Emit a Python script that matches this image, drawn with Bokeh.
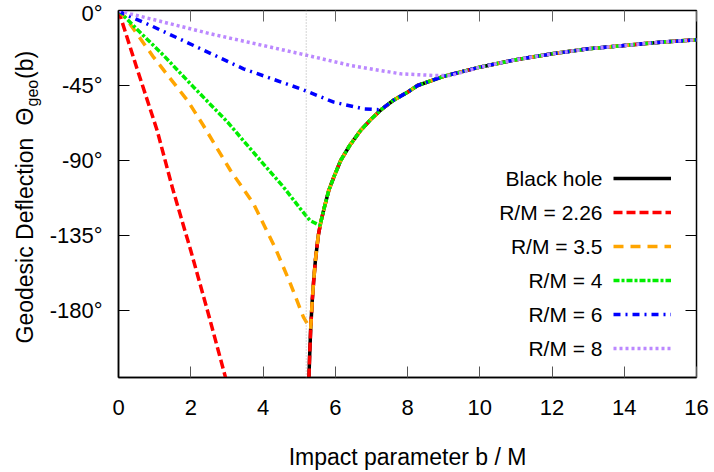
import math
from bokeh.plotting import figure
from bokeh.models import (Range1d, FixedTicker, LinearAxis, Label, Legend, LegendItem,
                          Span, CustomJSTickFormatter)
from bokeh.embed import file_html
from bokeh.resources import INLINE
from bokeh.core.properties import value

FONT = "Liberation Sans"

# ---------------- data ----------------
# Black hole (Schwarzschild) branch
bh_b = [5.26, 5.29, 5.32, 5.36, 5.40, 5.45, 5.53, 5.60, 5.70, 5.82, 5.96, 6.15, 6.40,
        6.70, 7.00, 7.30, 7.60, 8.00, 8.28, 9.00, 10.0, 11.0, 12.0, 13.0, 14.0, 15.0, 16.0]
bh_theta = [-228, -208, -191, -175, -163, -150, -135, -127, -118, -108, -100, -90, -81,
            -72, -65, -59, -54, -49, -45, -39.5, -34, -29.5, -26, -23, -21, -19, -17.6]

# Star branches (before they join the black-hole curve)
r226_b = [0.0, 0.5, 1.07, 1.5, 2.0, 2.5, 2.96, 3.1]
r226_theta = [0, -34, -72, -107, -144, -183, -220, -232]

r35_b = [0.0, 0.25, 0.97, 1.91, 2.35, 3.10, 3.74, 4.35, 4.76, 5.12, 5.31]
r35_theta = [0, -6, -28, -54, -69, -96, -116, -143, -164, -184, -191]

r4_b = [0.0, 0.5, 1.25, 2.08, 3.02, 3.85, 4.57, 5.0, 5.3, 5.58]
r4_theta = [0, -11, -27, -46, -67, -88, -106, -118, -126, -129]

r6_b = [0.0, 0.14, 0.89, 2.08, 3.46, 5.04, 5.96, 6.79, 7.2]
r6_theta = [0, -2, -9, -21, -35, -47, -55, -59, -59.5]

r8_b = [0.0, 0.33, 2.55, 5.04, 6.43, 7.81, 8.73, 9.2]
r8_theta = [0, -2, -14, -26, -33, -38, -39, -39]

series_names = ["Black hole", "R/M = 2.26", "R/M = 3.5", "R/M = 4", "R/M = 6", "R/M = 8"]
x_ticks = [0, 2, 4, 6, 8, 10, 12, 14, 16]
y_ticks = [0, -45, -90, -135, -180]
y_tick_labels = ["0°", "-45°", "-90°", "-135°", "-180°"]
# y title "Geodesic Deflection  Θ_geo(b)": main text (room kept for the subscript) + subscript
y_title_main = "Geodesic Deflection \u2005Θ\u2003\u2005(b)"
y_title_sub = "geo"
b_crit = [5.196]


def with_bh(b, t):
    last = b[-1]
    bb = list(b) + [x for x in bh_b if x > last]
    tt = list(t) + [y for x, y in zip(bh_b, bh_theta) if x > last]
    return bb, tt


# ---------------- figure ----------------
p = figure(width=714, height=472, output_backend="svg", toolbar_location=None,
           x_range=Range1d(0, 16), y_range=Range1d(-220.2, 0),
           min_border_left=118, min_border_right=18, min_border_top=10, min_border_bottom=95,
           background_fill_color="white", border_fill_color="white")
p.grid.visible = False
p.outline_line_color = "black"
p.outline_line_width = 1.5

xa = p.xaxis[0]
xa.ticker = FixedTicker(ticks=x_ticks)
xa.major_tick_in = 11
xa.major_tick_out = 0
xa.minor_tick_line_color = None
xa.major_tick_line_color = "#555555"
xa.axis_line_color = "black"
xa.axis_line_width = 1.5
xa.major_label_text_font = FONT
xa.major_label_text_font_size = "22px"
xa.major_label_text_color = "black"
xa.major_label_standoff = 22
xa.axis_label = "Impact parameter b / M"
xa.axis_label_text_font = FONT
xa.axis_label_text_font_size = "23px"
xa.axis_label_text_font_style = "normal"
xa.axis_label_text_color = "black"
xa.axis_label_standoff = 26

ya = p.yaxis[0]
ya.ticker = FixedTicker(ticks=y_ticks)
ya.major_label_overrides = {t: s for t, s in zip(y_ticks, y_tick_labels)}
ya.major_tick_in = 11
ya.major_tick_out = 0
ya.minor_tick_line_color = None
ya.major_tick_line_color = "black"
ya.axis_line_color = "black"
ya.axis_line_width = 1.5
ya.major_label_text_font = FONT
ya.major_label_text_font_size = "22px"
ya.major_label_text_color = "black"
ya.major_label_standoff = 16

empty = CustomJSTickFormatter(code="return ''")
top = LinearAxis(ticker=FixedTicker(ticks=x_ticks), formatter=empty,
                 major_label_text_font_size="0px", major_label_standoff=0,
                 major_tick_in=11, major_tick_out=0, minor_tick_line_color=None,
                 axis_line_color=None, major_tick_line_color="#666666")
p.add_layout(top, "above")
right = LinearAxis(ticker=FixedTicker(ticks=y_ticks), formatter=empty,
                   major_label_text_font_size="0px", major_label_standoff=0,
                   major_tick_in=11, major_tick_out=0, minor_tick_line_color=None,
                   axis_line_color=None, major_tick_line_color="black")
p.add_layout(right, "right")

for bc in b_crit:
    p.add_layout(Span(location=bc, dimension="height", line_color="#aaaaaa",
                      line_dash="1 2", line_width=1))

# ---------------- curves ----------------
styles = [
    ("black", None),
    ("#ff0000", "9 4"),
    ("#ffa500", "10 7"),
    ("#00ee00", "6 2 3 2"),
    ("#0000ff", "7 5 2 5"),
    ("#bb88ff", "3 3"),
]
datasets = [
    (bh_b, bh_theta),
    with_bh(r226_b, r226_theta),
    with_bh(r35_b, r35_theta),
    with_bh(r4_b, r4_theta),
    with_bh(r6_b, r6_theta),
    with_bh(r8_b, r8_theta),
]
renderers = []
for (bx, ty), (col, dash) in zip(datasets, styles):
    kw = dict(line_color=col, line_width=3.5)
    if dash:
        kw["line_dash"] = dash
    renderers.append(p.line(bx, ty, **kw))

# ---------------- legend (samples to the right of the labels) ----------------
legend = Legend(items=[LegendItem(label=value(""), renderers=[r]) for r in renderers],
                location=(495, 12), glyph_width=58, glyph_height=34, spacing=0,
                padding=0, margin=0, label_width=0, label_standoff=0,
                border_line_color=None, background_fill_alpha=0,
                label_text_font_size="10px")
p.add_layout(legend)

for i, name in enumerate(series_names):
    p.add_layout(Label(x=484, y=199 - 34 * i, x_units="screen", y_units="screen",
                       text=name, text_align="right", text_baseline="middle",
                       text_font=FONT, text_font_size="21px", text_color="black"))

# ---------------- y-axis title (left side panels) ----------------
p.add_layout(Label(x=4.5, y=34, x_units="screen", y_units="screen",
                   text=y_title_main, angle=math.pi / 2,
                   text_align="left", text_baseline="alphabetic",
                   text_font=FONT, text_font_size="23px", text_color="black"), "left")
p.add_layout(Label(x=29, y=271, x_units="screen", y_units="screen",
                   text=y_title_sub, angle=math.pi / 2,
                   text_align="left", text_baseline="alphabetic",
                   text_font=FONT, text_font_size="16px", text_color="black"), "left")

open("out.html", "w").write(file_html(p, INLINE))
